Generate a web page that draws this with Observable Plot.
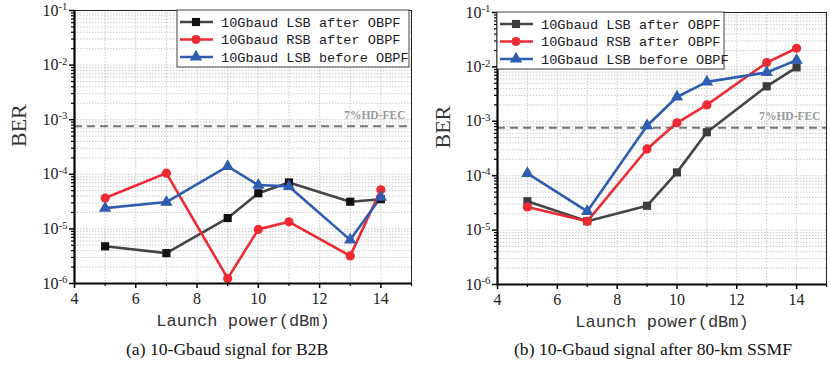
<!DOCTYPE html>
<html><head><meta charset="utf-8">
<script src="https://cdn.jsdelivr.net/npm/d3@7"></script>
<script src="https://cdn.jsdelivr.net/npm/@observablehq/plot@0.6"></script>
<style>
body{margin:0;background:#fff;}
#wrap{display:flex;width:830px;height:367px;}
.panel{width:415px;position:relative;}
.cap{font-family:"Liberation Serif",serif;font-size:17.6px;color:#111;text-align:center;position:absolute;top:339px;white-space:nowrap;}
</style></head>
<body><div id="wrap"></div>
<script>
const power = [5, 7, 9, 10, 11, 13, 14];
const seriesNames = ["10Gbaud LSB after OBPF", "10Gbaud RSB after OBPF", "10Gbaud LSB before OBPF"];
const b2bLsbAfter  = [4.8e-6, 3.6e-6, 1.58e-5, 4.5e-5, 7.1e-5, 3.15e-5, 3.5e-5];
const b2bRsbAfter  = [3.67e-5, 1.05e-4, 1.24e-6, 9.8e-6, 1.35e-5, 3.2e-6, 5.2e-5];
const b2bLsbBefore = [2.4e-5, 3.1e-5, 1.4e-4, 6.35e-5, 6.0e-5, 6.3e-6, 3.8e-5];
const ssmfLsbAfter  = [3.4e-5, 1.46e-5, 2.8e-5, 1.15e-4, 6.3e-4, 4.4e-3, 9.8e-3];
const ssmfRsbAfter  = [2.67e-5, 1.45e-5, 3.1e-4, 9.4e-4, 2.0e-3, 1.2e-2, 2.2e-2];
const ssmfLsbBefore = [1.1e-4, 2.2e-5, 8.3e-4, 2.8e-3, 5.3e-3, 7.9e-3, 1.33e-2];
const fecLimit = 7.6e-4;
const fecLabel = "7%HD-FEC";
const xTicks = [4, 6, 8, 10, 12, 14];
const xMinorTicks = [5, 7, 9, 11, 13, 15];
const yTicks = [1e-6, 1e-5, 1e-4, 1e-3, 1e-2, 1e-1];
const captions = ["(a) 10-Gbaud signal for B2B", "(b) 10-Gbaud signal after 80-km SSMF"];

const styles = [
  {line: "#454545", fill: "#111", symbol: "square", r: 4.6},
  {line: "#ee2b33", fill: "#ee2b33", symbol: "circle", r: 4.6},
  {line: "#2f5db2", fill: "#2f5db2", symbol: "triangle", r: 4.6}
];

const yMinor = [];
for (let e = -6; e < -1; e++) for (let m = 1; m <= 9; m++) yMinor.push(m * Math.pow(10, e));
yMinor.push(1e-1);
const yMinorOnly = yMinor.filter(v => !yTicks.some(t => Math.abs(t - v) / t < 1e-9));
const xGrid = [5,6,7,8,9,10,11,12,13,14,15];

function panel(values, opt) {
  const data = [];
  values.forEach((vals, s) => vals.forEach((v, i) => data.push({x: power[i], y: v, s})));
  const marks = [
    Plot.gridY(yMinor, {stroke: "#bbb", strokeOpacity: 1, strokeDasharray: "1.5,1.5", strokeWidth: 0.8}),
    Plot.gridX(xGrid, {stroke: "#bbb", strokeOpacity: 1, strokeDasharray: "1.5,1.5", strokeWidth: 0.8}),
    Plot.ruleY([fecLimit], {stroke: "#777", strokeWidth: 2, strokeDasharray: "8,5"}),
    Plot.text([fecLabel], {x: 15, y: fecLimit, text: d => d, textAnchor: "end", dx: -6, dy: -11, fill: "#999", fontWeight: "bold", fontSize: 11.5, fontFamily: "Liberation Serif"}),
  ];
  values.forEach((vals, s) => {
    const d = data.filter(p => p.s === s);
    marks.push(Plot.line(d, {x: "x", y: "y", stroke: styles[s].line, strokeWidth: 2.6}));
  });
  values.forEach((vals, s) => {
    const d = data.filter(p => p.s === s);
    marks.push(Plot.dot(d, {x: "x", y: "y", symbol: styles[s].symbol, r: styles[s].r, fill: opt.dark && s === 0 ? "#3c3c3c" : styles[s].fill, stroke: "none"}));
  });
  marks.push(
    Plot.frame({stroke: "#222", strokeWidth: 1}),
    Plot.ruleX([4], {stroke: "#000", strokeWidth: 2.2}),
    Plot.ruleY([1e-6], {stroke: "#000", strokeWidth: 2.2}),
    Plot.axisY(yTicks, {ariaLabel: "ymajor", tickSize: 5, tickPadding: 2, strokeWidth: 1.5, tickFormat: d => "10^" + Math.round(Math.log10(d)), fill: "#222", label: null}),
    Plot.axisY(yMinorOnly, {tickSize: 3, strokeWidth: 1.2, tickFormat: () => "", label: null}),
    Plot.axisX(xTicks, {ariaLabel: "xmajor", tickSize: 5, tickPadding: 4, strokeWidth: 1.5, fill: "#222", label: null}),
    Plot.axisX(xMinorTicks, {tickSize: 3, strokeWidth: 1.2, tickFormat: () => "", label: null}),
    Plot.text(["Launch power(dBm)"], {frameAnchor: "bottom", dy: 42, fontFamily: "Liberation Mono", fontSize: 17, fill: "#333"}),
    Plot.text(["BER"], {frameAnchor: "left", rotate: -90, dx: opt.berDx, fontFamily: "Liberation Serif", fontSize: 22, fill: "#333"})
  );
  const svg = Plot.plot({
    width: 415, height: 338,
    marginLeft: opt.ml, marginRight: opt.mr, marginTop: opt.mt, marginBottom: opt.mb,
    x: {domain: [4, 15]},
    y: {type: "log", domain: [1e-6, 1e-1]},
    style: {background: "transparent", overflow: "visible"},
    marks
  });
  // tick label fonts + superscripts
  d3.select(svg).selectAll("text").each(function() {
    const t = this.textContent;
    const m = /^10\^(-?\d+)$/.exec(t);
    if (m) {
      this.textContent = "";
      const s = d3.select(this);
      s.style("font-size", "16px").style("font-family", "Liberation Serif");
      s.append("tspan").text("10");
      s.append("tspan").attr("dy", "-0.5em").attr("font-size", "0.68em").text(m[1]);
    } else if (/^\d+$/.test(t)) {
      d3.select(this).style("font-size", "16px").style("font-family", "Liberation Serif");
    }
  });
  // legend
  const g = d3.select(svg).append("g");
  g.append("rect").attr("x", opt.lx).attr("y", opt.ly).attr("width", opt.lw).attr("height", 57)
    .attr("fill", "#fff").attr("stroke", "#444").attr("stroke-width", 1);
  seriesNames.forEach((name, s) => {
    const cy = opt.ly + 12 + s * 17.5;
    g.append("line").attr("x1", opt.lx + 3).attr("x2", opt.lx + 36).attr("y1", cy).attr("y2", cy)
      .attr("stroke", styles[s].line).attr("stroke-width", 2.6);
    const sym = styles[s].symbol === "square" ? d3.symbolSquare : styles[s].symbol === "circle" ? d3.symbolCircle : d3.symbolTriangle;
    g.append("path").attr("d", d3.symbol(sym, Math.PI * styles[s].r * styles[s].r)())
      .attr("transform", `translate(${opt.lx + 19},${cy})`)
      .attr("fill", opt.dark && s === 0 ? "#3c3c3c" : styles[s].fill);
    g.append("text").attr("x", opt.lx + 44).attr("y", cy).attr("dy", "0.35em")
      .attr("text-anchor", "start")
      .attr("font-family", "Liberation Mono").attr("font-size", 13.6).attr("fill", "#1a1a2a").text(name);
  });
  return svg;
}

const wrap = document.getElementById("wrap");
const cfgs = [
  {vals: [b2bLsbAfter, b2bRsbAfter, b2bLsbBefore], ml: 74, mr: 4, mt: 10, mb: 55, lx: 177, ly: 10, lw: 232, berDx: -56, dark: false, capX: 227},
  {vals: [ssmfLsbAfter, ssmfRsbAfter, ssmfLsbBefore], ml: 82, mr: 4, mt: 12, mb: 54, lx: 82, ly: 12, lw: 227, berDx: -55, dark: true, capX: 238}
];
cfgs.forEach((c, i) => {
  const div = document.createElement("div");
  div.className = "panel";
  div.appendChild(panel(c.vals, c));
  const cap = document.createElement("div");
  cap.className = "cap";
  cap.textContent = captions[i];
  div.appendChild(cap);
  wrap.appendChild(div);
  cap.style.left = (c.capX - cap.offsetWidth / 2) + "px";
});
</script></body></html>
